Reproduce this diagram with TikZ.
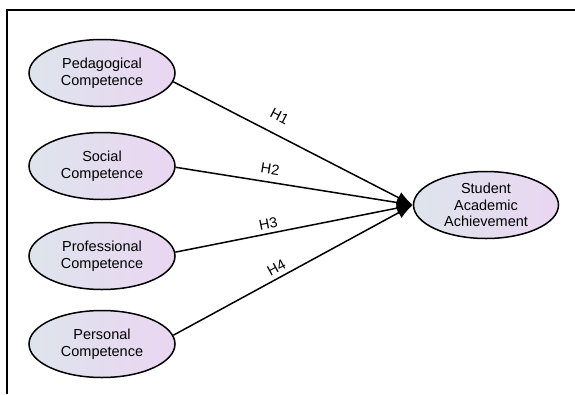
\documentclass[tikz,border=0pt]{standalone}
\usepackage{fontspec}
\setmainfont{Liberation Sans}
\usepackage{tikz}
\usetikzlibrary{shapes.geometric}
\usetikzlibrary{arrows.meta}

\definecolor{latleft}{RGB}{222,228,236}
\definecolor{latright}{RGB}{234,214,242}

\tikzset{
  latent/.style={ellipse, draw, line width=1.5pt, minimum width=146pt, minimum height=67pt,
    inner sep=0pt, align=center, left color=latleft, right color=latright,
    font=\fontsize{14.5}{16.5}\selectfont},
  path/.style={line width=1.5pt, -{Latex[length=16pt,width=12pt]}},
  hyp/.style={sloped, inner sep=1pt, font=\fontsize{14.5}{16.5}\selectfont}
}

\begin{document}
\begin{tikzpicture}[x=1pt,y=-1pt]
\useasboundingbox (0,0) rectangle (575,394);
\draw[line width=1.8pt] (7,394) -- (7,10) -- (575,10);
\node (sa) at (486,205) [latent, minimum width=145pt] {Student\\Academic\\Achievement};
% name/y/text/label/start angle/pos/shift
\foreach \n/\y/\t/\h/\a/\p/\d in {pc/73/Pedagogical/H1/-7/0.41/11pt, sc/166/Social/H2/-1/0.39/6pt, prc/256/Professional/H3/3/0.40/3pt, psc/344/Personal/H4/7/0.45/3pt} {
\node (\n) at (102,\y) [latent] {\t\\Competence};
\draw[path] (\n.\a) -- (sa.west) node[hyp,above=\d,pos=\p] {\h};
}
\end{tikzpicture}
\end{document}
